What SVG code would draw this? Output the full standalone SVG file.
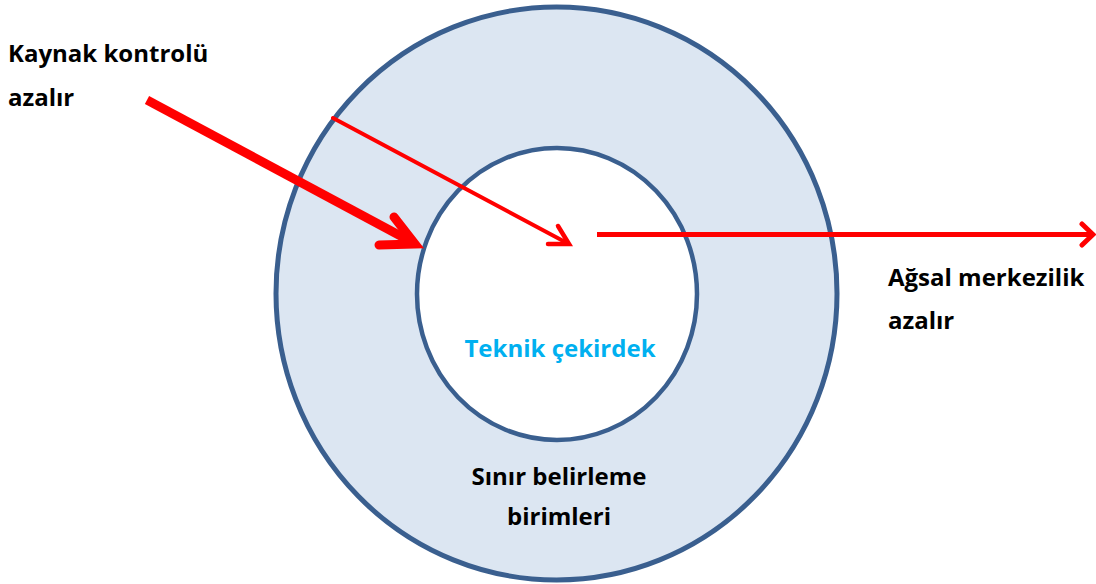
<svg xmlns="http://www.w3.org/2000/svg" width="1096" height="584" viewBox="0 0 1096 584">
<style>
.lbl{font-family:"Open Sans","Liberation Sans",sans-serif;font-weight:bold;font-size:24px;fill:#000}
.ring{stroke:#3A5F8F;stroke-width:5}
.red{fill:none;stroke:#FF0000;stroke-linecap:round}
</style>
<rect width="1096" height="584" fill="#FFFFFF"/>
<g id="outer-ring">
<ellipse class="ring" cx="556.5" cy="293.5" rx="280.5" ry="286.5" fill="#DCE6F2"/>
<text class="lbl" x="559" y="485" text-anchor="middle">Sınır belirleme</text>
<text class="lbl" x="559" y="525" text-anchor="middle">birimleri</text>
</g>
<g id="inner-core">
<ellipse class="ring" cx="557" cy="294" rx="140" ry="146" fill="#FFFFFF" style="stroke-width:4.5"/>
<text x="560" y="357" text-anchor="middle" style="font-family:'Open Sans','Liberation Sans',sans-serif;font-weight:bold;font-size:24px;fill:#00B0F0">Teknik çekirdek</text>
</g>
<g id="label-left">
<text class="lbl" x="8" y="62">Kaynak kontrolü</text>
<text class="lbl" x="8" y="106">azalır</text>
</g>
<g id="label-right">
<text class="lbl" x="888" y="286">Ağsal merkezilik</text>
<text class="lbl" x="888" y="329">azalır</text>
</g>
<g id="connectors">
<line class="red" x1="147" y1="100" x2="410" y2="241" style="stroke-width:9;stroke-linecap:butt"/>
<polyline class="red" points="394,217 415,244 379,245" style="stroke-width:9;stroke-linejoin:miter"/>
<line class="red" x1="333" y1="118" x2="567" y2="243" style="stroke-width:4"/>
<polyline class="red" points="558,226 569,244 548,244" style="stroke-width:4.5;stroke-linejoin:miter"/>
<line class="red" x1="597" y1="234.5" x2="1092" y2="234.5" style="stroke-width:5;stroke-linecap:butt"/>
<polyline class="red" points="1082,224 1093,234.5 1082,245" style="stroke-width:5;stroke-linejoin:miter"/>
</g>
</svg>
